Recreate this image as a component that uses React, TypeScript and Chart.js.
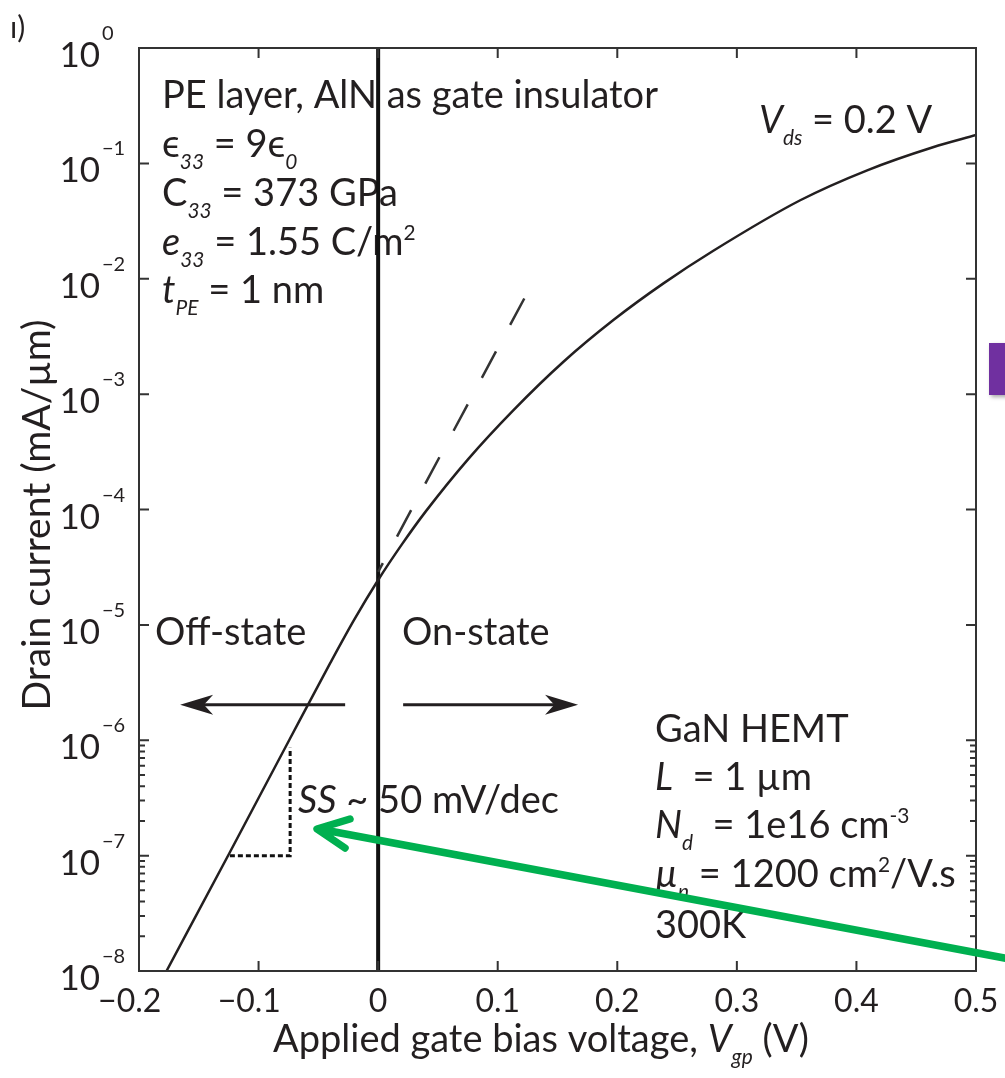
import React, { useEffect, useRef } from "react";
import { Chart, registerables } from "chart.js";

Chart.register(...registerables);

// ---------- data ----------
const gateVoltage = [
  -0.177, -0.124, -0.074, -0.04, -0.02, 0, 0.02, 0.04, 0.0755, 0.113, 0.155,
  0.197, 0.2386, 0.28, 0.353, 0.409, 0.464, 0.5,
];
const drainCurrent = [
  1.0e-8, 1.07e-7, 1.02e-6, 4.68e-6, 1.11e-5, 2.45e-5, 5.01e-5, 9.68e-5,
  2.75e-4, 7.24e-4, 1.91e-3, 4.41e-3, 9.12e-3, 1.74e-2, 4.79e-2, 8.71e-2,
  1.38e-1, 1.76e-1,
];
const dashedVoltage = [0, 0.1246];
const dashedCurrent = [2.88e-5, 7.5e-3];
const ssVoltage = [-0.124, -0.0736, -0.0736];
const ssCurrent = [1.0e-7, 1.0e-7, 8.6e-7];
const zeroLineVoltage = [0, 0];
const zeroLineCurrent = [1e-8, 1];

const xMin = -0.2;
const xMax = 0.5;
const yMin = 1e-8;
const yMax = 1;
const xTicks = [-0.2, -0.1, 0, 0.1, 0.2, 0.3, 0.4, 0.5];
const xTickLabels = ["−0.2", "−0.1", "0", "0.1", "0.2", "0.3", "0.4", "0.5"];
const yDecades = [0, -1, -2, -3, -4, -5, -6, -7, -8];
const yExponentLabels = ["0", "−1", "−2", "−3", "−4", "−5", "−6", "−7", "−8"];
const minorDecades = [-8, -7];
const minorMultipliers = [2, 3, 4, 5, 6, 7, 8, 9];

const offArrow = { from: -0.0276, to: -0.1656, current: 2.03e-6 };
const onArrow = { from: 0.0209, to: 0.1672, current: 2.03e-6 };

const FONT = "Lato, 'DejaVu Sans', sans-serif";
const INK = "#231f20";

type Seg = { t: string; it?: boolean; sub?: boolean; sup?: boolean };

function drawRich(
  ctx: CanvasRenderingContext2D,
  segs: Seg[],
  x: number,
  y: number,
  size: number,
  align: "left" | "center" = "left"
) {
  const f = (s: number, it?: boolean) => `${it ? "italic " : ""}${s}px ${FONT}`;
  let w = 0;
  const parts = segs.map((s) => {
    const sz = s.sub || s.sup ? size * 0.55 : size;
    ctx.font = f(sz, s.it);
    const m = ctx.measureText(s.t).width;
    w += m;
    return { ...s, sz, m };
  });
  let cx = align === "center" ? x - w / 2 : x;
  ctx.textAlign = "left";
  ctx.textBaseline = "alphabetic";
  for (const p of parts) {
    ctx.font = f(p.sz, p.it);
    const dy = p.sub ? size * 0.32 : p.sup ? -size * 0.4 : 0;
    ctx.fillText(p.t, cx, y + dy);
    cx += p.m;
  }
}

function drawStealthArrow(
  ctx: CanvasRenderingContext2D,
  x0: number,
  x1: number,
  y: number
) {
  const dir = Math.sign(x1 - x0);
  const L = 33;
  const H = 10;
  ctx.beginPath();
  ctx.moveTo(x0, y);
  ctx.lineTo(x1 - dir * L * 0.7, y);
  ctx.lineWidth = 3;
  ctx.strokeStyle = INK;
  ctx.stroke();
  ctx.beginPath();
  ctx.moveTo(x1, y);
  ctx.lineTo(x1 - dir * L, y - H);
  ctx.lineTo(x1 - dir * L * 0.72, y);
  ctx.lineTo(x1 - dir * L, y + H);
  ctx.closePath();
  ctx.fillStyle = INK;
  ctx.fill();
}

const decorPlugin = {
  id: "decor",
  beforeDraw(chart: any) {
    const { ctx } = chart;
    ctx.save();
    ctx.fillStyle = "#fff";
    ctx.fillRect(0, 0, chart.width, chart.height);
    ctx.restore();
  },
  beforeDatasetsDraw(chart: any) {
    const { ctx } = chart;
    ctx.save();
    ctx.fillStyle = INK;
    const S = 38;
    // top-left parameter block
    drawRich(ctx, [{ t: "PE layer, AlN as gate insulator" }], 162, 108, S);
    drawRich(ctx, [{ t: "ϵ" }, { t: "33", it: true, sub: true }, { t: " = 9ϵ" }, { t: "0", it: true, sub: true }], 162, 157, S);
    drawRich(ctx, [{ t: "C" }, { t: "33", it: true, sub: true }, { t: " = 373 GPa" }], 162, 206, S);
    drawRich(ctx, [{ t: "e", it: true }, { t: "33", it: true, sub: true }, { t: " = 1.55 C/m" }, { t: "2", sup: true }], 162, 255, S);
    drawRich(ctx, [{ t: "t", it: true }, { t: "PE", it: true, sub: true }, { t: " = 1 nm" }], 162, 303, S);
    // Vds
    drawRich(ctx, [{ t: "V", it: true }, { t: "ds", it: true, sub: true }, { t: " = 0.2 V" }], 759, 133, S);
    // states
    drawRich(ctx, [{ t: "Off-state" }], 155, 645, S);
    drawRich(ctx, [{ t: "On-state" }], 402, 645, S);
    drawRich(ctx, [{ t: "SS", it: true }, { t: " ~ 50 mV/dec" }], 298, 813, S);
    // device block
    drawRich(ctx, [{ t: "GaN HEMT" }], 655, 742, S);
    drawRich(ctx, [{ t: "L", it: true }, { t: "  = 1 µm" }], 655, 790, S);
    drawRich(ctx, [{ t: "N", it: true }, { t: "d", it: true, sub: true }, { t: "  = 1e16 cm" }, { t: "-3", sup: true }], 655, 838, S);
    drawRich(ctx, [{ t: "µ", it: true }, { t: "n", it: true, sub: true }, { t: " = 1200 cm" }, { t: "2", sup: true }, { t: "/V.s" }], 655, 887, S);
    drawRich(ctx, [{ t: "300K" }], 655, 938, S);

    // arrows
    const xs = chart.scales.x;
    const ys = chart.scales.y;
    for (const a of [offArrow, onArrow]) {
      drawStealthArrow(ctx, xs.getPixelForValue(a.from), xs.getPixelForValue(a.to), ys.getPixelForValue(a.current));
    }
    ctx.restore();
  },
  afterDraw(chart: any) {
    const { ctx, chartArea } = chart;
    const xs = chart.scales.x;
    const ys = chart.scales.y;
    const { left, right, top, bottom } = chartArea;
    ctx.save();
    // frame
    ctx.strokeStyle = "#333";
    ctx.lineWidth = 2;
    ctx.strokeRect(left, top, right - left, bottom - top);
    // ticks
    ctx.beginPath();
    for (const v of xTicks) {
      const px = xs.getPixelForValue(v);
      ctx.moveTo(px, bottom);
      ctx.lineTo(px, bottom - 10);
      ctx.moveTo(px, top);
      ctx.lineTo(px, top + 10);
    }
    for (const d of yDecades) {
      const py = ys.getPixelForValue(Math.pow(10, d));
      ctx.moveTo(left, py);
      ctx.lineTo(left + 10, py);
      ctx.moveTo(right, py);
      ctx.lineTo(right - 10, py);
    }
    for (const d of minorDecades) {
      for (const m of minorMultipliers) {
        const py = ys.getPixelForValue(m * Math.pow(10, d));
        ctx.moveTo(left, py);
        ctx.lineTo(left + 6, py);
        ctx.moveTo(right, py);
        ctx.lineTo(right - 6, py);
      }
    }
    ctx.stroke();

    // x tick labels
    ctx.fillStyle = INK;
    ctx.font = `32px ${FONT}`;
    ctx.textBaseline = "alphabetic";
    xTicks.forEach((v, i) => {
      const px = xs.getPixelForValue(v);
      const lab = xTickLabels[i];
      const neg = lab.startsWith("−");
      const num = neg ? lab.slice(1) : lab;
      const w = ctx.measureText(num).width;
      ctx.textAlign = "left";
      ctx.fillText(num, px - w / 2, 1012);
      if (neg) {
        ctx.textAlign = "right";
        ctx.fillText("−", px - w / 2, 1012);
      }
    });
    // y tick labels
    yDecades.forEach((d, i) => {
      const py = ys.getPixelForValue(Math.pow(10, d));
      ctx.font = `35px ${FONT}`;
      ctx.textAlign = "right";
      ctx.fillText("10", 100, py + 19);
      ctx.font = `20px ${FONT}`;
      ctx.textAlign = "left";
      ctx.fillText(yExponentLabels[i], 102, py - 8);
    });
    // axis titles
    drawRich(
      ctx,
      [{ t: "Applied gate bias voltage, " }, { t: "V", it: true }, { t: "gp", it: true, sub: true }, { t: " (V)" }],
      541,
      1052,
      38,
      "center"
    );
    ctx.save();
    ctx.translate(50, 515);
    ctx.rotate(-Math.PI / 2);
    ctx.font = `39px ${FONT}`;
    ctx.textAlign = "center";
    ctx.fillText("Drain current (mA/µm)", 0, 0);
    ctx.restore();

    // panel label remnant
    ctx.font = `30px ${FONT}`;
    ctx.textAlign = "left";
    ctx.fillText("ı)", 10, 38);

    // slide overlays: purple marker and green arrow
    ctx.save();
    ctx.shadowColor = "rgba(0,0,0,0.35)";
    ctx.shadowBlur = 4;
    ctx.shadowOffsetX = 2;
    ctx.shadowOffsetY = 2;
    ctx.fillStyle = "#7030a0";
    ctx.fillRect(989, 343, 20, 52);
    ctx.restore();

    ctx.strokeStyle = "#00b050";
    ctx.lineWidth = 7.5;
    ctx.lineCap = "round";
    ctx.lineJoin = "round";
    ctx.beginPath();
    ctx.moveTo(1015, 960);
    ctx.lineTo(319, 829);
    ctx.moveTo(350, 819);
    ctx.lineTo(317, 829);
    ctx.lineTo(345, 848);
    ctx.stroke();
    ctx.restore();
  },
};

export default function App() {
  const ref = useRef<HTMLCanvasElement | null>(null);
  useEffect(() => {
    if (!ref.current) return;
    const toPts = (xs: number[], ys: number[]) => xs.map((x, i) => ({ x, y: ys[i] }));
    const chart = new Chart(ref.current, {
      type: "scatter",
      data: {
        datasets: [
          {
            label: "Drain current",
            data: toPts(gateVoltage, drainCurrent),
            showLine: true,
            borderColor: INK,
            borderWidth: 2.5,
            pointRadius: 0,
            cubicInterpolationMode: "monotone",
          },
          {
            label: "Ideal slope",
            data: toPts(dashedVoltage, dashedCurrent),
            showLine: true,
            borderColor: "#333",
            borderWidth: 2.5,
            borderDash: [30, 30],
            borderDashOffset: 20,
            pointRadius: 0,
          },
          {
            label: "SS",
            data: toPts(ssVoltage, ssCurrent),
            showLine: true,
            borderColor: "#111",
            borderWidth: 3,
            borderDash: [5, 3],
            pointRadius: 0,
          },
          {
            label: "Vgp = 0",
            data: toPts(zeroLineVoltage, zeroLineCurrent),
            showLine: true,
            borderColor: "#111",
            borderWidth: 4,
            pointRadius: 0,
          },
        ],
      } as any,
      options: {
        animation: false,
        responsive: false,
        devicePixelRatio: 1,
        layout: { padding: { left: 139, top: 48, right: 29, bottom: 107 } },
        plugins: { legend: { display: false }, tooltip: { enabled: false } },
        scales: {
          x: { type: "linear", min: xMin, max: xMax, display: false },
          y: { type: "logarithmic", min: yMin, max: yMax, display: false },
        },
      } as any,
      plugins: [decorPlugin],
    });
    return () => chart.destroy();
  }, []);
  return (
    <div style={{ position: "fixed", left: 0, top: 0, width: 1005, height: 1078, background: "#fff" }}>
      <canvas ref={ref} width={1005} height={1078} style={{ display: "block" }} />
    </div>
  );
}
